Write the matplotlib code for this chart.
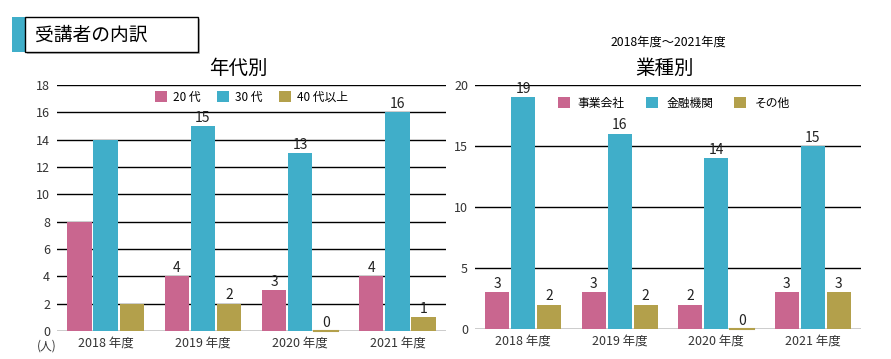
import matplotlib.pyplot as plt
import numpy as np
from matplotlib.patches import Rectangle, Patch

plt.rcParams['font.family'] = ['Noto Sans CJK JP', 'DejaVu Sans']

years = ["2018 年度", "2019 年度", "2020 年度", "2021 年度"]

# age groups
age_names = ["20 代", "30 代", "40 代以上"]
age_20 = [8, 4, 3, 4]
age_30 = [14, 15, 13, 16]
age_40 = [2, 2, 0, 1]

# industries
ind_names = ["事業会社", "金融機関", "その他"]
ind_company = [3, 3, 2, 3]
ind_finance = [19, 16, 14, 15]
ind_other = [2, 2, 0, 3]

colors = ["#C9668F", "#40AEC9", "#B3A04B"]
W, H = 891, 359

fig = plt.figure(figsize=(W / 100, H / 100), dpi=100)


def px(x0, y0, w, h):
    # pixel box (top-left origin) -> figure fraction
    return [x0 / W, 1 - (y0 + h) / H, w / W, h / H]


def draw(ax, series, names, ymax, step, skip_first):
    x = np.arange(len(years))
    off = 0.268
    for i, vals in enumerate(series):
        bars = ax.bar(x + (i - 1) * off, vals, width=0.25, color=colors[i],
                      edgecolor="none", zorder=3)
        for j, b in enumerate(bars):
            if vals[j] == 0:
                # zero bar shows as a thin coloured line on the baseline
                ax.plot([b.get_x(), b.get_x() + b.get_width()], [0, 0],
                        color=colors[i], linewidth=1.5, zorder=4, clip_on=False)
            if skip_first and j == 0:
                continue
            ax.text(b.get_x() + b.get_width() / 2, vals[j] + ymax * 0.006, str(vals[j]),
                    ha="center", va="bottom", fontsize=10, color="#222222", zorder=4)
    ax.set_xlim(-0.5, len(years) - 0.5)
    ax.set_ylim(0, ymax)
    ax.set_yticks(np.arange(0, ymax + 1, step))
    ax.yaxis.grid(True, color="black", linewidth=1)
    ax.set_axisbelow(True)
    for s in ax.spines.values():
        s.set_visible(False)
    ax.set_xticks(x)
    ax.set_xticklabels(years)
    ax.tick_params(axis="both", length=0, labelsize=9, colors="#333333")
    ax.tick_params(axis="y", pad=5)
    ax.tick_params(axis="x", pad=4)
    handles = [Patch(facecolor=c) for c in colors]
    return handles


ax1 = fig.add_axes(px(57, 85, 389, 246))
h1 = draw(ax1, [age_20, age_30, age_40], age_names, 18, 2, True)
ax1.legend(h1, age_names, loc="center", bbox_to_anchor=(0.5, 0.95), ncol=3,
           frameon=False, fontsize=8.5, handlelength=1.0, handleheight=1.1,
           handletextpad=0.5, columnspacing=1.4)

ax2 = fig.add_axes(px(475, 85, 386, 244))
h2 = draw(ax2, [ind_company, ind_finance, ind_other], ind_names, 20, 5, False)
ax2.legend(h2, ind_names, loc="center", bbox_to_anchor=(0.515, 0.926), ncol=3,
           frameon=False, fontsize=8.5, handlelength=1.0, handleheight=1.1,
           handletextpad=0.7, columnspacing=1.8)

# titles
fig.text(238 / W, 1 - 68 / H, "年代別", ha="center", va="center", fontsize=14)
fig.text(665 / W, 1 - 68 / H, "業種別", ha="center", va="center", fontsize=14)
fig.text(668 / W, 1 - 42 / H, "2018年度～2021年度", ha="center", va="center", fontsize=8.8)
fig.text(47 / W, 1 - 346 / H, "(人)", ha="center", va="center", fontsize=8.5, color="#333333")

# header box
fig.add_artist(Rectangle((27 / W, 1 - 54 / H), 173 / W, 35 / H,
                         transform=fig.transFigure, facecolor="#bbbbbb", edgecolor="none"))
fig.add_artist(Rectangle((12 / W, 1 - 52 / H), 13 / W, 35 / H,
                         transform=fig.transFigure, facecolor="#40AEC9", edgecolor="none"))
fig.add_artist(Rectangle((25 / W, 1 - 52 / H), 173 / W, 35 / H,
                         transform=fig.transFigure, facecolor="white", edgecolor="black",
                         linewidth=1))
fig.text(35 / W, 1 - 35 / H, "受講者の内訳", ha="left", va="center", fontsize=13.5)

fig.savefig("out.png", dpi=100)
